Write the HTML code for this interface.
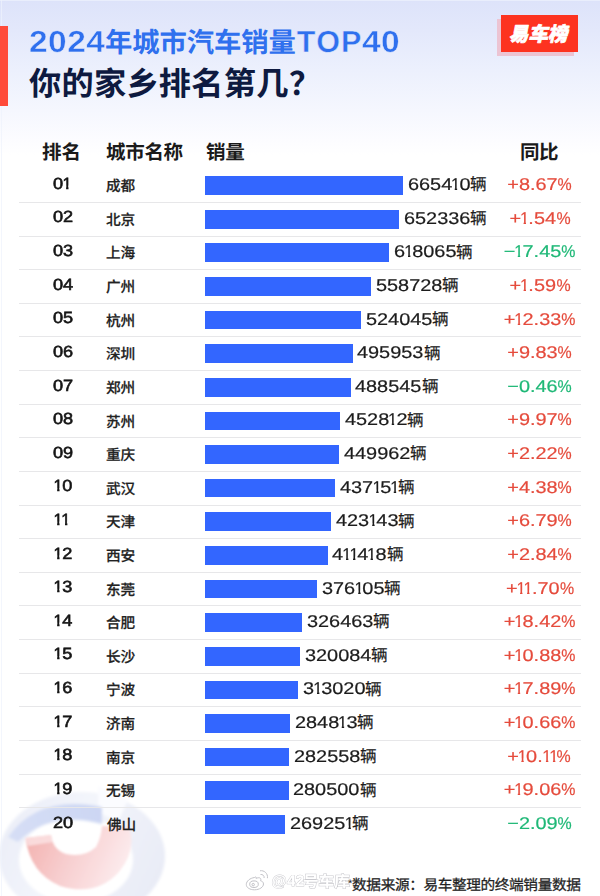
<!DOCTYPE html>
<html lang="zh-CN">
<head>
<meta charset="utf-8">
<title>2024年城市汽车销量TOP40</title>
<style>
*{margin:0;padding:0;box-sizing:border-box}
html,body{width:600px;height:896px;overflow:hidden;background:#fff}
body{font-family:"Liberation Sans","Noto Sans CJK SC",sans-serif;color:#1c1c1c;position:relative;text-rendering:geometricPrecision;font-kerning:none}
#page{position:absolute;left:0;top:0;width:600px;height:896px;overflow:hidden;
 background:linear-gradient(180deg,#dde3fa 0px,#e3e8fb 30px,#ecf0fd 70px,#f5f7fe 110px,#fcfcff 140px,#ffffff 155px,#ffffff 100%)}
.cj{position:absolute;display:block;line-height:0;white-space:nowrap}
.cj svg,.ci svg{display:block;width:100%;height:.88em;overflow:visible;fill:currentColor}
.cj svg text,.ci svg text{font-family:"Liberation Sans","Noto Sans CJK SC",sans-serif;font-size:1000px}
.ci{position:relative;display:inline-block;line-height:0;vertical-align:baseline}
i{font-style:normal}
b{font-weight:inherit}
.redbar{position:absolute;left:0;top:26.2px;width:8px;height:79.4px;background:#ff4b3a}
.bshadow{position:absolute;left:496.5px;top:18.9px;width:77px;height:36.9px;background:#ecc4d3}
.badge{position:absolute;left:500.8px;top:14.8px;width:77px;height:36.8px;background:#fd3320;color:#fff}
.badge .bt{transform:skewX(-10deg);transform-origin:50% 100%}
.t1{position:absolute;left:0;top:0;width:600px;height:0;color:#2f70ee;font-weight:bold;font-size:30.5px;line-height:40px}
.tl{position:absolute;display:block;white-space:nowrap;height:40px;transform-origin:0 50%;-webkit-text-stroke:.45px #e6ebfc}
.tl.num{transform:scaleX(1.1);letter-spacing:.4px}
.tl.lat{letter-spacing:1px}
.t2{position:absolute;left:0;top:0;width:600px;height:0;color:#0e1a40;font-weight:bold;font-size:32px}
.hdr{position:absolute;left:0;top:0;width:600px;height:0;color:#1a1a1a}
.r{position:absolute;left:0;top:0;width:600px;height:0;line-height:24.0px;white-space:nowrap}
.r>span{position:absolute}
.sep{position:absolute;left:19.4px;width:561.2px;height:1px;background:#e7e7e9}
.rank{left:53.3px;height:24.0px;font-size:16.2px;color:#151515;-webkit-text-stroke:.6px #151515}
.rank .d{display:inline-block;transform:scaleX(1.12);transform-origin:0 50%}
.rank .d i{display:inline-block;transform:scaleX(.9);margin:0 -.07em}
.city{color:#222}
i.f{margin-left:.02em !important}
.bar{left:205.2px;height:18.7px;background:#3366ff}
.val{height:24.0px;font-size:17.0px;color:#1c1c1c;-webkit-text-stroke-width:.22px}
.val .d{display:inline-block;transform:scaleX(1.17);transform-origin:0 50%}
.d i{display:inline-block;transform:scaleX(.82);margin:0 -0.1em;clip-path:polygon(0 0,100% 0,100% calc(50% + .1em),.37em calc(50% + .1em),.37em 100%,.222em 100%,.222em calc(50% + .1em),0 calc(50% + .1em))}
.val .lg{font-size:16.4px;position:relative;top:.75px;margin-left:.1px}
.pct{left:489.5px;width:100px;height:24.0px;text-align:center;font-size:17.0px;-webkit-text-stroke-width:.2px}
.pct .d{display:inline-block;transform:scaleX(1.17);transform-origin:50% 50%}
.pct b{display:inline-block;transform:scaleX(.8);transform-origin:0 50%;margin-right:-.178em}
.up{color:#e54b3c}
.dn{color:#1fb877}
.foot{position:absolute;left:0;top:0;width:600px;height:0;color:#222}
.star{position:absolute;font-size:11px;line-height:14px;height:14px}
.wm{position:absolute;left:0;top:0;width:600px;height:0;color:#fff;opacity:.8}
.wmt{position:absolute;font-size:15.5px;line-height:20px;height:20px;font-weight:bold;color:#fff;-webkit-text-stroke:.9px #bcbcc2;paint-order:stroke fill;letter-spacing:.3px}
.wmc{color:#fff}
.wb{position:absolute;left:244px;top:868px;width:26px;height:24px;overflow:visible}
.deco{position:absolute;left:0;top:760px;width:190px;height:136px}
.edge{position:absolute;background:#eef2fc}
</style>
</head>
<body>
<div id="page">
<svg class="deco" viewBox="0 760 190 136" aria-hidden="true">
<defs>
<filter id="bl" x="-20%" y="-20%" width="140%" height="140%"><feGaussianBlur stdDeviation="1.6"/></filter>
<filter id="bl2" x="-20%" y="-20%" width="140%" height="140%"><feGaussianBlur stdDeviation="1.1"/></filter>
<linearGradient id="rg" gradientUnits="userSpaceOnUse" x1="30" y1="836" x2="125" y2="880"><stop offset="0" stop-color="#f3b4b2"/><stop offset=".4" stop-color="#f7cdce"/><stop offset="1" stop-color="#fdeef0"/></linearGradient>
<linearGradient id="og" gradientUnits="userSpaceOnUse" x1="0" y1="800" x2="165" y2="880"><stop offset="0" stop-color="#eaedf7"/><stop offset=".45" stop-color="#f3f5fb"/><stop offset="1" stop-color="#e8ebf6"/></linearGradient>
<linearGradient id="bg2" gradientUnits="userSpaceOnUse" x1="10" y1="840" x2="100" y2="805"><stop offset="0" stop-color="#d6def5"/><stop offset="1" stop-color="#ccd6f3"/></linearGradient>
</defs>
<g filter="url(#bl)">
<path fill-rule="evenodd" fill="url(#og)" d="M-1 856 A83 64 0 1 1 165 856 A83 64 0 1 1 -1 856 Z M19 860 A57 43 0 1 0 133 860 A57 43 0 1 0 19 860 Z"/>
<path d="M98 786 L128 800 L118 822 L98 812 Z" fill="#fbfcff"/>
<path d="M8 837 Q38 794 102 807 L102 824 Q50 810 18 842 Z" fill="url(#bg2)"/>
</g>
<g filter="url(#bl2)">
<path d="M25.5 838 L51 835 Q53 850 66 854 Q84 858 96 847 Q101 838 102 826 L129 827 Q137 850 119 872 Q96 897 60 886 Q30 873 25.5 838 Z" fill="url(#rg)"/>
<path d="M25.5 838 L51 835 L53 842 L28 846 Z" fill="#fbe3e5" opacity=".8"/>
</g>
</svg>
<div class="edge" style="left:1px;top:0;width:1px;height:896px;opacity:.7"></div>
<div class="edge" style="left:0;top:0;width:600px;height:1px;opacity:.7"></div>
<div class="redbar"></div>
<div class="bshadow"></div>
<div class="badge"><span class="cj bt" style="left:7.74px;top:8.2px;font-size:20px;width:59px;"><svg viewBox="0 -880 2950 880" stroke="#fff" stroke-width="36" stroke-linejoin="round"><text x="0" y="0" font-weight="900" letter-spacing="-25">易车榜</text></svg></span></div>
<h1 class="t1"><span class="tl num" style="left:28.6px;top:22.38px">2024</span><span class="cj " style="left:105.47px;top:28.29px;font-size:27.8px;width:191.26px;"><svg viewBox="0 -880 6880 880"><text x="0" y="0" font-weight="700" letter-spacing="-20">年城市汽车销量</text></svg></span><span class="tl lat" style="left:296.66px;top:22.38px">TOP</span><span class="tl num" style="left:361.7px;top:22.38px">40</span></h1>
<h2 class="t2"><span class="cj " style="left:29.31px;top:67.31px;font-size:32.2px;width:259.4px;"><svg viewBox="0 -880 8056 880"><text x="0" y="0" font-weight="700" letter-spacing="8">你的家乡排名第几</text></svg></span><span class="cj " style="left:289.47px;top:66.96px;font-size:32.2px;width:32.2px;"><svg viewBox="0 -880 1000 880"><text x="0" y="0" font-weight="700">？</text></svg></span></h2>
<div class="hdr"><span class="cj " style="left:42.44px;top:141.9px;font-size:19.2px;width:38.59px;"><svg viewBox="0 -880 2010 880"><text x="0" y="0" font-weight="700" letter-spacing="10">排名</text></svg></span><span class="cj " style="left:106.21px;top:141.9px;font-size:19.2px;width:76.8px;"><svg viewBox="0 -880 4000 880"><text x="0" y="0" font-weight="700">城市名称</text></svg></span><span class="cj " style="left:206.32px;top:141.9px;font-size:19.2px;width:38.4px;"><svg viewBox="0 -880 2000 880"><text x="0" y="0" font-weight="700">销量</text></svg></span><span class="cj " style="left:520.46px;top:141.9px;font-size:19.2px;width:38.21px;"><svg viewBox="0 -880 1990 880"><text x="0" y="0" font-weight="700" letter-spacing="-10">同比</text></svg></span></div>
<div class="r">
<span class="rank" style="top:171.79px"><span class="d">0<i>1</i></span></span>
<span class="cj city" style="left:106.31px;top:178.17px;font-size:14.3px;width:28.9px;"><svg viewBox="0 -880 2021 880" stroke="currentColor" stroke-width="14"><text x="0" y="0" font-weight="500" letter-spacing="21">成都</text></svg></span>
<span class="bar" style="top:176.2px;width:198px"></span>
<span class="val" style="top:173.11px;left:407.85px"><span class="d" style="margin-right:8.97px">6654<i>1</i>0</span><span class="ci lg" style="width:1em"><svg viewBox="0 -880 1000 880" stroke="currentColor" stroke-width="12"><text x="0" y="0">辆</text></svg></span></span>
<span class="pct up" style="top:173.11px"><span class="d">+8.67<b>%</b></span></span>
</div>
<div class="sep" style="top:202px"></div>
<div class="r">
<span class="rank" style="top:205.41px"><span class="d">02</span></span>
<span class="cj city" style="left:106.35px;top:211.79px;font-size:14.3px;width:28.9px;"><svg viewBox="0 -880 2021 880" stroke="currentColor" stroke-width="14"><text x="0" y="0" font-weight="500" letter-spacing="21">北京</text></svg></span>
<span class="bar" style="top:209.82px;width:194.11px"></span>
<span class="val" style="top:206.73px;left:403.96px"><span class="d" style="margin-right:9.54px">652336</span><span class="ci lg" style="width:1em"><svg viewBox="0 -880 1000 880" stroke="currentColor" stroke-width="12"><text x="0" y="0">辆</text></svg></span></span>
<span class="pct up" style="top:206.73px"><span class="d">+<i>1</i>.54<b>%</b></span></span>
</div>
<div class="sep" style="top:235.62px"></div>
<div class="r">
<span class="rank" style="top:239.03px"><span class="d">03</span></span>
<span class="cj city" style="left:106.06px;top:245.41px;font-size:14.3px;width:28.9px;"><svg viewBox="0 -880 2021 880" stroke="currentColor" stroke-width="14"><text x="0" y="0" font-weight="500" letter-spacing="21">上海</text></svg></span>
<span class="bar" style="top:243.44px;width:183.91px"></span>
<span class="val" style="top:240.35px;left:393.76px"><span class="d" style="margin-right:8.97px">6<i>1</i>8065</span><span class="ci lg" style="width:1em"><svg viewBox="0 -880 1000 880" stroke="currentColor" stroke-width="12"><text x="0" y="0">辆</text></svg></span></span>
<span class="pct dn" style="top:240.35px"><span class="d">−<i>1</i>7.45<b>%</b></span></span>
</div>
<div class="sep" style="top:269.24px"></div>
<div class="r">
<span class="rank" style="top:272.65px"><span class="d">04</span></span>
<span class="cj city" style="left:106.26px;top:279.03px;font-size:14.3px;width:28.9px;"><svg viewBox="0 -880 2021 880" stroke="currentColor" stroke-width="14"><text x="0" y="0" font-weight="500" letter-spacing="21">广州</text></svg></span>
<span class="bar" style="top:277.06px;width:166.26px"></span>
<span class="val" style="top:273.97px;left:376.11px"><span class="d" style="margin-right:9.54px">558728</span><span class="ci lg" style="width:1em"><svg viewBox="0 -880 1000 880" stroke="currentColor" stroke-width="12"><text x="0" y="0">辆</text></svg></span></span>
<span class="pct up" style="top:273.97px"><span class="d">+<i>1</i>.59<b>%</b></span></span>
</div>
<div class="sep" style="top:302.86px"></div>
<div class="r">
<span class="rank" style="top:306.27px"><span class="d">05</span></span>
<span class="cj city" style="left:106.38px;top:312.65px;font-size:14.3px;width:28.9px;"><svg viewBox="0 -880 2021 880" stroke="currentColor" stroke-width="14"><text x="0" y="0" font-weight="500" letter-spacing="21">杭州</text></svg></span>
<span class="bar" style="top:310.68px;width:155.94px"></span>
<span class="val" style="top:307.59px;left:365.79px"><span class="d" style="margin-right:9.54px">524045</span><span class="ci lg" style="width:1em"><svg viewBox="0 -880 1000 880" stroke="currentColor" stroke-width="12"><text x="0" y="0">辆</text></svg></span></span>
<span class="pct up" style="top:307.59px"><span class="d">+<i>1</i>2.33<b>%</b></span></span>
</div>
<div class="sep" style="top:336.48px"></div>
<div class="r">
<span class="rank" style="top:339.89px"><span class="d">06</span></span>
<span class="cj city" style="left:106.28px;top:346.27px;font-size:14.3px;width:28.9px;"><svg viewBox="0 -880 2021 880" stroke="currentColor" stroke-width="14"><text x="0" y="0" font-weight="500" letter-spacing="21">深圳</text></svg></span>
<span class="bar" style="top:344.3px;width:147.58px"></span>
<span class="val" style="top:341.21px;left:357.43px"><span class="d" style="margin-right:9.54px">495953</span><span class="ci lg" style="width:1em"><svg viewBox="0 -880 1000 880" stroke="currentColor" stroke-width="12"><text x="0" y="0">辆</text></svg></span></span>
<span class="pct up" style="top:341.21px"><span class="d">+9.83<b>%</b></span></span>
</div>
<div class="sep" style="top:370.1px"></div>
<div class="r">
<span class="rank" style="top:373.51px"><span class="d">07</span></span>
<span class="cj city" style="left:106.21px;top:379.89px;font-size:14.3px;width:28.9px;"><svg viewBox="0 -880 2021 880" stroke="currentColor" stroke-width="14"><text x="0" y="0" font-weight="500" letter-spacing="21">郑州</text></svg></span>
<span class="bar" style="top:377.92px;width:145.37px"></span>
<span class="val" style="top:374.83px;left:355.22px"><span class="d" style="margin-right:9.54px">488545</span><span class="ci lg" style="width:1em"><svg viewBox="0 -880 1000 880" stroke="currentColor" stroke-width="12"><text x="0" y="0">辆</text></svg></span></span>
<span class="pct dn" style="top:374.83px"><span class="d">−0.46<b>%</b></span></span>
</div>
<div class="sep" style="top:403.72px"></div>
<div class="r">
<span class="rank" style="top:407.13px"><span class="d">08</span></span>
<span class="cj city" style="left:105.91px;top:413.51px;font-size:14.3px;width:28.9px;"><svg viewBox="0 -880 2021 880" stroke="currentColor" stroke-width="14"><text x="0" y="0" font-weight="500" letter-spacing="21">苏州</text></svg></span>
<span class="bar" style="top:411.54px;width:134.74px"></span>
<span class="val" style="top:408.45px;left:344.59px"><span class="d" style="margin-right:8.97px">4528<i>1</i>2</span><span class="ci lg" style="width:1em"><svg viewBox="0 -880 1000 880" stroke="currentColor" stroke-width="12"><text x="0" y="0">辆</text></svg></span></span>
<span class="pct up" style="top:408.45px"><span class="d">+9.97<b>%</b></span></span>
</div>
<div class="sep" style="top:437.34px"></div>
<div class="r">
<span class="rank" style="top:440.75px"><span class="d">09</span></span>
<span class="cj city" style="left:106.05px;top:447.13px;font-size:14.3px;width:28.9px;"><svg viewBox="0 -880 2021 880" stroke="currentColor" stroke-width="14"><text x="0" y="0" font-weight="500" letter-spacing="21">重庆</text></svg></span>
<span class="bar" style="top:445.16px;width:133.89px"></span>
<span class="val" style="top:442.07px;left:343.74px"><span class="d" style="margin-right:9.54px">449962</span><span class="ci lg" style="width:1em"><svg viewBox="0 -880 1000 880" stroke="currentColor" stroke-width="12"><text x="0" y="0">辆</text></svg></span></span>
<span class="pct up" style="top:442.07px"><span class="d">+2.22<b>%</b></span></span>
</div>
<div class="sep" style="top:470.96px"></div>
<div class="r">
<span class="rank" style="top:474.37px"><span class="d"><i class="f">1</i>0</span></span>
<span class="cj city" style="left:106.22px;top:480.75px;font-size:14.3px;width:28.9px;"><svg viewBox="0 -880 2021 880" stroke="currentColor" stroke-width="14"><text x="0" y="0" font-weight="500" letter-spacing="21">武汉</text></svg></span>
<span class="bar" style="top:478.78px;width:130.08px"></span>
<span class="val" style="top:475.69px;left:339.93px"><span class="d" style="margin-right:8.39px">437<i>1</i>5<i>1</i></span><span class="ci lg" style="width:1em"><svg viewBox="0 -880 1000 880" stroke="currentColor" stroke-width="12"><text x="0" y="0">辆</text></svg></span></span>
<span class="pct up" style="top:475.69px"><span class="d">+4.38<b>%</b></span></span>
</div>
<div class="sep" style="top:504.58px"></div>
<div class="r">
<span class="rank" style="top:507.99px"><span class="d"><i class="f">1</i><i>1</i></span></span>
<span class="cj city" style="left:106.24px;top:514.37px;font-size:14.3px;width:28.9px;"><svg viewBox="0 -880 2021 880" stroke="currentColor" stroke-width="14"><text x="0" y="0" font-weight="500" letter-spacing="21">天津</text></svg></span>
<span class="bar" style="top:512.4px;width:125.91px"></span>
<span class="val" style="top:509.31px;left:335.76px"><span class="d" style="margin-right:8.97px">423<i>1</i>43</span><span class="ci lg" style="width:1em"><svg viewBox="0 -880 1000 880" stroke="currentColor" stroke-width="12"><text x="0" y="0">辆</text></svg></span></span>
<span class="pct up" style="top:509.31px"><span class="d">+6.79<b>%</b></span></span>
</div>
<div class="sep" style="top:538.2px"></div>
<div class="r">
<span class="rank" style="top:541.61px"><span class="d"><i class="f">1</i>2</span></span>
<span class="cj city" style="left:105.96px;top:547.99px;font-size:14.3px;width:28.9px;"><svg viewBox="0 -880 2021 880" stroke="currentColor" stroke-width="14"><text x="0" y="0" font-weight="500" letter-spacing="21">西安</text></svg></span>
<span class="bar" style="top:546.02px;width:122.42px"></span>
<span class="val" style="top:542.93px;left:332.27px"><span class="d" style="margin-right:7.81px">4<i>1</i><i>1</i>4<i>1</i>8</span><span class="ci lg" style="width:1em"><svg viewBox="0 -880 1000 880" stroke="currentColor" stroke-width="12"><text x="0" y="0">辆</text></svg></span></span>
<span class="pct up" style="top:542.93px"><span class="d">+2.84<b>%</b></span></span>
</div>
<div class="sep" style="top:571.82px"></div>
<div class="r">
<span class="rank" style="top:575.23px"><span class="d"><i class="f">1</i>3</span></span>
<span class="cj city" style="left:105.82px;top:581.61px;font-size:14.3px;width:28.9px;"><svg viewBox="0 -880 2021 880" stroke="currentColor" stroke-width="14"><text x="0" y="0" font-weight="500" letter-spacing="21">东莞</text></svg></span>
<span class="bar" style="top:579.64px;width:111.91px"></span>
<span class="val" style="top:576.55px;left:321.76px"><span class="d" style="margin-right:8.97px">376<i>1</i>05</span><span class="ci lg" style="width:1em"><svg viewBox="0 -880 1000 880" stroke="currentColor" stroke-width="12"><text x="0" y="0">辆</text></svg></span></span>
<span class="pct up" style="top:576.55px"><span class="d">+<i>1</i><i>1</i>.70<b>%</b></span></span>
</div>
<div class="sep" style="top:605.44px"></div>
<div class="r">
<span class="rank" style="top:608.85px"><span class="d"><i class="f">1</i>4</span></span>
<span class="cj city" style="left:106.25px;top:615.23px;font-size:14.3px;width:28.9px;"><svg viewBox="0 -880 2021 880" stroke="currentColor" stroke-width="14"><text x="0" y="0" font-weight="500" letter-spacing="21">合肥</text></svg></span>
<span class="bar" style="top:613.26px;width:97.14px"></span>
<span class="val" style="top:610.17px;left:306.99px"><span class="d" style="margin-right:9.54px">326463</span><span class="ci lg" style="width:1em"><svg viewBox="0 -880 1000 880" stroke="currentColor" stroke-width="12"><text x="0" y="0">辆</text></svg></span></span>
<span class="pct up" style="top:610.17px"><span class="d">+<i>1</i>8.42<b>%</b></span></span>
</div>
<div class="sep" style="top:639.06px"></div>
<div class="r">
<span class="rank" style="top:642.47px"><span class="d"><i class="f">1</i>5</span></span>
<span class="cj city" style="left:105.98px;top:648.85px;font-size:14.3px;width:28.9px;"><svg viewBox="0 -880 2021 880" stroke="currentColor" stroke-width="14"><text x="0" y="0" font-weight="500" letter-spacing="21">长沙</text></svg></span>
<span class="bar" style="top:646.88px;width:95.24px"></span>
<span class="val" style="top:643.79px;left:305.09px"><span class="d" style="margin-right:9.54px">320084</span><span class="ci lg" style="width:1em"><svg viewBox="0 -880 1000 880" stroke="currentColor" stroke-width="12"><text x="0" y="0">辆</text></svg></span></span>
<span class="pct up" style="top:643.79px"><span class="d">+<i>1</i>0.88<b>%</b></span></span>
</div>
<div class="sep" style="top:672.68px"></div>
<div class="r">
<span class="rank" style="top:676.09px"><span class="d"><i class="f">1</i>6</span></span>
<span class="cj city" style="left:105.75px;top:682.47px;font-size:14.3px;width:28.9px;"><svg viewBox="0 -880 2021 880" stroke="currentColor" stroke-width="14"><text x="0" y="0" font-weight="500" letter-spacing="21">宁波</text></svg></span>
<span class="bar" style="top:680.5px;width:93.14px"></span>
<span class="val" style="top:677.41px;left:302.99px"><span class="d" style="margin-right:8.97px">3<i>1</i>3020</span><span class="ci lg" style="width:1em"><svg viewBox="0 -880 1000 880" stroke="currentColor" stroke-width="12"><text x="0" y="0">辆</text></svg></span></span>
<span class="pct up" style="top:677.41px"><span class="d">+<i>1</i>7.89<b>%</b></span></span>
</div>
<div class="sep" style="top:706.3px"></div>
<div class="r">
<span class="rank" style="top:709.71px"><span class="d"><i class="f">1</i>7</span></span>
<span class="cj city" style="left:106.24px;top:716.09px;font-size:14.3px;width:28.9px;"><svg viewBox="0 -880 2021 880" stroke="currentColor" stroke-width="14"><text x="0" y="0" font-weight="500" letter-spacing="21">济南</text></svg></span>
<span class="bar" style="top:714.12px;width:84.75px"></span>
<span class="val" style="top:711.03px;left:294.6px"><span class="d" style="margin-right:8.97px">2848<i>1</i>3</span><span class="ci lg" style="width:1em"><svg viewBox="0 -880 1000 880" stroke="currentColor" stroke-width="12"><text x="0" y="0">辆</text></svg></span></span>
<span class="pct up" style="top:711.03px"><span class="d">+<i>1</i>0.66<b>%</b></span></span>
</div>
<div class="sep" style="top:739.92px"></div>
<div class="r">
<span class="rank" style="top:743.33px"><span class="d"><i class="f">1</i>8</span></span>
<span class="cj city" style="left:105.92px;top:749.71px;font-size:14.3px;width:28.9px;"><svg viewBox="0 -880 2021 880" stroke="currentColor" stroke-width="14"><text x="0" y="0" font-weight="500" letter-spacing="21">南京</text></svg></span>
<span class="bar" style="top:747.74px;width:84.08px"></span>
<span class="val" style="top:744.65px;left:293.93px"><span class="d" style="margin-right:9.54px">282558</span><span class="ci lg" style="width:1em"><svg viewBox="0 -880 1000 880" stroke="currentColor" stroke-width="12"><text x="0" y="0">辆</text></svg></span></span>
<span class="pct up" style="top:744.65px"><span class="d">+<i>1</i>0.<i>1</i><i>1</i><b>%</b></span></span>
</div>
<div class="sep" style="top:773.54px"></div>
<div class="r">
<span class="rank" style="top:776.95px"><span class="d"><i class="f">1</i>9</span></span>
<span class="cj city" style="left:106.25px;top:783.33px;font-size:14.3px;width:28.9px;"><svg viewBox="0 -880 2021 880" stroke="currentColor" stroke-width="14"><text x="0" y="0" font-weight="500" letter-spacing="21">无锡</text></svg></span>
<span class="bar" style="top:781.36px;width:83.47px"></span>
<span class="val" style="top:778.27px;left:293.32px"><span class="d" style="margin-right:9.54px">280500</span><span class="ci lg" style="width:1em"><svg viewBox="0 -880 1000 880" stroke="currentColor" stroke-width="12"><text x="0" y="0">辆</text></svg></span></span>
<span class="pct up" style="top:778.27px"><span class="d">+<i>1</i>9.06<b>%</b></span></span>
</div>
<div class="sep" style="top:807.16px"></div>
<div class="r">
<span class="rank" style="top:810.57px"><span class="d">20</span></span>
<span class="cj city" style="left:106.56px;top:816.95px;font-size:14.3px;width:28.9px;"><svg viewBox="0 -880 2021 880" stroke="currentColor" stroke-width="14"><text x="0" y="0" font-weight="500" letter-spacing="21">佛山</text></svg></span>
<span class="bar" style="top:814.98px;width:80.12px"></span>
<span class="val" style="top:811.89px;left:289.97px"><span class="d" style="margin-right:8.97px">26925<i>1</i></span><span class="ci lg" style="width:1em"><svg viewBox="0 -880 1000 880" stroke="currentColor" stroke-width="12"><text x="0" y="0">辆</text></svg></span></span>
<span class="pct dn" style="top:811.89px"><span class="d">−2.09<b>%</b></span></span>
</div>
<svg class="wb" viewBox="0 0 26 24" aria-hidden="true" fill="#fff" stroke="#b8b8be" stroke-width="1" opacity=".85">
<path d="M10.5 9.5c-4.5.6-8.2 3.6-8.2 7 0 3.2 3.6 5.3 8.2 5.3 5 0 9-2.7 9-5.8 0-2-1.6-2.9-2.9-3.2.4-1 .4-2-.3-2.6-.9-.8-2.700-.5-4.200.2.300-1.300-.2-2.100-1.600-.9z"/>
<ellipse cx="10" cy="16.200" rx="4.300" ry="3.300"/>
<circle cx="9.200" cy="16.600" r="1.200"/>
<path d="M16.500 6.500c2-.4 4 1.200 3.600 3.500" fill="none"/>
<path d="M16 2.800c4-.8 8.200 2.600 7.400 7.400" fill="none"/>
</svg>
<div class="wm"><span class="wmt" style="left:271.5px;top:871.83px">@42</span><span class="cj wmc" style="left:302.69px;top:874.42px;font-size:15.2px;width:46.39px;"><svg viewBox="0 -880 3052 880" stroke="#bcbcc2" stroke-width="70" paint-order="stroke"><text x="0" y="0" font-weight="700" letter-spacing="26">号车库</text></svg></span></div>
<div class="foot"><span class="star" style="left:348px;top:876.99px">*</span><span class="cj " style="left:352.1px;top:877.6px;font-size:14.2px;width:228.48px;"><svg viewBox="0 -880 16090 880" stroke="currentColor" stroke-width="18"><text x="0" y="0" letter-spacing="6">数据来源：易车整理的终端销量数据</text></svg></span></div>
</div>
</body>
</html>
